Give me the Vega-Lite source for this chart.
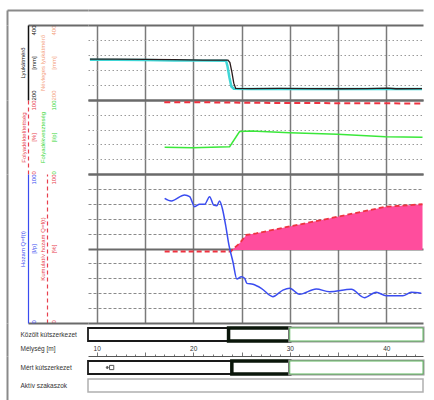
{
  "$schema": "https://vega.github.io/schema/vega-lite/v6.json",
  "padding": {"left": 6, "top": 9, "right": 0, "bottom": 0},
  "spacing": 0,
  "bounds": "flush",
  "config": {
    "font": "Liberation Sans",
    "view": {"stroke": null},
    "axis": {"minExtent": 0, "labelFontSize": 6, "titleFontSize": 6, "titleFontWeight": "normal", "labelOverlap": false, "labelFlush": false, "labelBound": false, "ticks": false, "tickSize": 0}
  },
  "vconcat": [
    {
      "width": 335, "height": 15,
      "data": {"values": [{"depth": 20, "v": 0.5}]},
      "mark": {"type": "point", "opacity": 0},
      "encoding": {
        "x": {"field": "depth", "type": "quantitative", "scale": {"domain": [9.1, 43.8], "nice": false, "zero": false},
              "axis": {"orient": "top", "domain": true, "domainColor": "#8a8a8a", "domainWidth": 2, "labels": false, "ticks": false, "grid": false, "title": null}},
        "y": {"field": "v", "type": "quantitative", "scale": {"domain": [0, 1], "nice": false},
              "axis": {"orient": "left", "offset": 81, "domain": true, "domainColor": "#8a8a8a", "domainWidth": 2, "labels": false, "ticks": true, "values": [1], "tickSize": -81, "tickColor": "#8a8a8a", "tickWidth": 2, "grid": false, "title": null}}
      }
    },
    {
      "width": 335, "height": 75,
      "resolve": {"scale": {"y": "independent"}},
      "layer": [
        {
          "data": {"values": [{"v": 0.5}]},
          "mark": {"type": "rule", "opacity": 0},
          "encoding": {
            "y": {"field": "v", "type": "quantitative", "scale": {"domain": [0, 1], "nice": false},
                  "axis": {"orient": "left", "offset": 81, "domain": true, "domainColor": "#8a8a8a", "domainWidth": 2, "labels": false, "ticks": false, "title": null,
                           "values": [0, 0.2, 0.4, 0.6, 0.8, 1], "grid": true,
                           "gridColor": {"condition": {"test": "datum.value < 0.01 || datum.value > 0.99", "value": "#6a6a6a"}, "value": "#9a9a9a"},
                           "gridWidth": {"condition": {"test": "datum.value < 0.01 || datum.value > 0.99", "value": 2}, "value": 1},
                           "gridDash": {"condition": {"test": "datum.value < 0.01 || datum.value > 0.99", "value": []}, "value": [1.5, 2.5]}}}
          }
        },
        {
          "data": {"values": [
            {"depth": 9.3, "mm": 307.5}, {"depth": 12, "mm": 307}, {"depth": 15, "mm": 306.5}, {"depth": 18, "mm": 305.5},
            {"depth": 21, "mm": 305}, {"depth": 23.4, "mm": 305}, {"depth": 23.55, "mm": 290}, {"depth": 23.75, "mm": 260},
            {"depth": 23.95, "mm": 236}, {"depth": 24.2, "mm": 230}, {"depth": 26, "mm": 229.5}, {"depth": 43.7, "mm": 229.5}
          ]},
          "mark": {"type": "line", "color": "#3fd6d6", "strokeWidth": 2.5},
          "encoding": {
            "x": {"field": "depth", "type": "quantitative", "scale": {"domain": [9.1, 43.8], "nice": false, "zero": false},
                  "axis": {"labels": false, "ticks": false, "domain": false, "grid": true, "values": [10, 15, 20, 25, 30, 35, 40], "gridColor": "#7a7a7a", "gridWidth": 1.5, "title": null}},
            "y": {"field": "mm", "type": "quantitative", "scale": {"domain": [200, 400], "nice": false, "zero": false},
                  "axis": {"orient": "left", "offset": 41, "domain": false, "grid": false, "values": [200, 300, 400], "labelOverlap": false,
                           "labelExpr": "datum.value == 300 ? '[mm]' : datum.label", "labelAngle": -90, "labelBaseline": "top", "labelPadding": -3,
                           "labelAlign": {"condition": [{"test": "datum.value == 400", "value": "right"}, {"test": "datum.value == 200", "value": "left"}], "value": "center"},
                           "labelColor": "#f4a07c", "title": "Névleges lyukátmérő", "titleColor": "#f4a07c", "titlePadding": 1.5}}
          }
        },
        {
          "data": {"values": [
            {"depth": 9.3, "mm": 309}, {"depth": 12, "mm": 309}, {"depth": 15, "mm": 308.5}, {"depth": 18, "mm": 307.5},
            {"depth": 21, "mm": 306.5}, {"depth": 23.6, "mm": 306.5}, {"depth": 23.8, "mm": 300}, {"depth": 24.0, "mm": 275},
            {"depth": 24.2, "mm": 245}, {"depth": 24.4, "mm": 231}, {"depth": 26, "mm": 230.5}, {"depth": 29, "mm": 231},
            {"depth": 32, "mm": 230.5}, {"depth": 35, "mm": 230}, {"depth": 38, "mm": 230.5}, {"depth": 40.2, "mm": 231.5},
            {"depth": 41, "mm": 230}, {"depth": 43.7, "mm": 230.5}
          ]},
          "mark": {"type": "line", "color": "#2a1c1c", "strokeWidth": 1.3},
          "encoding": {
            "x": {"field": "depth", "type": "quantitative", "scale": {"domain": [9.1, 43.8], "nice": false, "zero": false},
                  "axis": {"labels": false, "ticks": false, "domain": false, "grid": true, "values": [10, 15, 20, 25, 30, 35, 40], "gridColor": "#7a7a7a", "gridWidth": 1.5, "title": null}},
            "y": {"field": "mm", "type": "quantitative", "scale": {"domain": [200, 400], "nice": false, "zero": false},
                  "axis": {"orient": "left", "offset": 60, "domain": true, "domainColor": "#111111", "domainWidth": 1.5, "grid": false, "values": [200, 300, 400], "labelOverlap": false,
                           "ticks": true, "tickSize": -60, "tickWidth": 2, "tickColor": "#6a6a6a",
                           "tickOpacity": {"condition": {"test": "datum.value == 400", "value": 1}, "value": 0},
                           "labelExpr": "datum.value == 300 ? '[mm]' : datum.label", "labelAngle": -90, "labelBaseline": "top", "labelPadding": 58,
                           "labelAlign": {"condition": [{"test": "datum.value == 400", "value": "right"}, {"test": "datum.value == 200", "value": "left"}], "value": "center"},
                           "labelColor": "#111111", "title": "Lyukátmérő", "titleColor": "#111111", "titlePadding": 2}}
          }
        }
      ]
    },
    {
      "width": 335, "height": 74,
      "resolve": {"scale": {"y": "independent"}},
      "layer": [
        {
          "data": {"values": [{"v": 0.5}]},
          "mark": {"type": "rule", "opacity": 0},
          "encoding": {
            "y": {"field": "v", "type": "quantitative", "scale": {"domain": [0, 1], "nice": false},
                  "axis": {"orient": "left", "offset": 81, "domain": true, "domainColor": "#8a8a8a", "domainWidth": 2, "labels": false, "ticks": false, "title": null,
                           "values": [0, 0.2, 0.4, 0.6, 0.8, 1], "grid": true,
                           "gridColor": {"condition": {"test": "datum.value < 0.01 || datum.value > 0.99", "value": "#6a6a6a"}, "value": "#9a9a9a"},
                           "gridWidth": {"condition": {"test": "datum.value < 0.01 || datum.value > 0.99", "value": 2}, "value": 1},
                           "gridDash": {"condition": {"test": "datum.value < 0.01 || datum.value > 0.99", "value": []}, "value": [1.5, 2.5]}}}
          }
        },
        {
          "data": {"values": [
            {"depth": 17.0, "pct": 97}, {"depth": 22, "pct": 96.8}, {"depth": 26, "pct": 96.2}, {"depth": 30, "pct": 96},
            {"depth": 35, "pct": 95.7}, {"depth": 40, "pct": 95.5}, {"depth": 43.7, "pct": 95.3}
          ]},
          "mark": {"type": "line", "color": "#ee3340", "strokeWidth": 2, "strokeDash": [6, 4]},
          "encoding": {
            "x": {"field": "depth", "type": "quantitative", "scale": {"domain": [9.1, 43.8], "nice": false, "zero": false},
                  "axis": {"labels": false, "ticks": false, "domain": false, "grid": true, "values": [10, 15, 20, 25, 30, 35, 40], "gridColor": "#7a7a7a", "gridWidth": 1.5, "title": null}},
            "y": {"field": "pct", "type": "quantitative", "scale": {"domain": [0, 100], "nice": false},
                  "axis": {"orient": "left", "offset": 60, "domain": true, "domainColor": "#e8404e", "domainWidth": 1.2, "domainDash": [4, 3], "grid": false, "values": [0, 50, 100], "labelOverlap": false,
                           "labelExpr": "datum.value == 50 ? '[%]' : datum.label", "labelAngle": -90, "labelBaseline": "top", "labelPadding": -2,
                           "labelAlign": {"condition": [{"test": "datum.value == 100", "value": "right"}, {"test": "datum.value == 0", "value": "left"}], "value": "center"},
                           "labelColor": "#e8404e", "title": "Folyadéktelítettség", "titleColor": "#e8404e", "titlePadding": 2}}
          }
        },
        {
          "data": {"values": [
            {"depth": 17.04, "val": 36.1}, {"depth": 19.94, "val": 35.5}, {"depth": 23.77, "val": 36.9}, {"depth": 24.8, "val": 57.3},
            {"depth": 26, "val": 58}, {"depth": 29.98, "val": 55.8}, {"depth": 34.95, "val": 53.6}, {"depth": 39.92, "val": 50.4}, {"depth": 43.75, "val": 49.6}
          ]},
          "mark": {"type": "line", "color": "#3ae83a", "strokeWidth": 1.5},
          "encoding": {
            "x": {"field": "depth", "type": "quantitative", "scale": {"domain": [9.1, 43.8], "nice": false, "zero": false},
                  "axis": {"labels": false, "ticks": false, "domain": false, "grid": true, "values": [10, 15, 20, 25, 30, 35, 40], "gridColor": "#7a7a7a", "gridWidth": 1.5, "title": null}},
            "y": {"field": "val", "type": "quantitative", "scale": {"domain": [0, 100], "nice": false},
                  "axis": {"orient": "left", "offset": 41, "domain": false, "grid": false, "values": [0, 50, 100], "labelOverlap": false,
                           "labelExpr": "datum.value == 50 ? '[l/p]' : datum.label", "labelAngle": -90, "labelBaseline": "top", "labelPadding": -3,
                           "labelAlign": {"condition": [{"test": "datum.value == 100", "value": "right"}, {"test": "datum.value == 0", "value": "left"}], "value": "center"},
                           "labelColor": "#3ad83a", "title": "Folyadékveszteség", "titleColor": "#3ad83a", "titlePadding": 1.5}}
          }
        }
      ]
    },
    {
      "width": 335, "height": 149,
      "resolve": {"scale": {"y": "independent"}},
      "layer": [
        {
          "data": {"values": [{"v": 0.5}]},
          "mark": {"type": "rule", "opacity": 0},
          "encoding": {
            "y": {"field": "v", "type": "quantitative", "scale": {"domain": [0, 1], "nice": false},
                  "axis": {"orient": "left", "offset": 81, "domain": true, "domainColor": "#8a8a8a", "domainWidth": 2, "labels": false, "ticks": false, "title": null,
                           "values": [0, 0.1, 0.2, 0.3, 0.4, 0.5, 0.6, 0.7, 0.8, 0.9, 1], "grid": true,
                           "gridColor": {"condition": {"test": "datum.value < 0.01 || datum.value > 0.99 || abs(datum.value - 0.5) < 0.01", "value": "#6a6a6a"}, "value": "#8a8a8a"},
                           "gridWidth": {"condition": {"test": "datum.value < 0.01 || datum.value > 0.99 || abs(datum.value - 0.5) < 0.01", "value": 2}, "value": 1},
                           "gridDash": {"condition": {"test": "datum.value < 0.01 || datum.value > 0.99 || abs(datum.value - 0.5) < 0.01", "value": []}, "value": [3, 2]}}}
          }
        },
        {
          "data": {"values": [
            {"depth": 17.04, "pct": 48}, {"depth": 23.9, "pct": 48}, {"depth": 24.11, "pct": 49.5}, {"depth": 24.8, "pct": 53.5},
            {"depth": 25.5, "pct": 59.1}, {"depth": 26.53, "pct": 60.2}, {"depth": 29.98, "pct": 64.8}, {"depth": 34.95, "pct": 71.3},
            {"depth": 39.99, "pct": 78.1}, {"depth": 43.75, "pct": 79.7}
          ]},
          "transform": [{"filter": "datum.depth >= 24.1"}],
          "mark": {"type": "area", "color": "#ff4d9d", "opacity": 1},
          "encoding": {
            "x": {"field": "depth", "type": "quantitative", "scale": {"domain": [9.1, 43.8], "nice": false, "zero": false},
                  "axis": {"labels": false, "ticks": false, "domain": false, "grid": true, "values": [10, 15, 20, 25, 30, 35, 40], "gridColor": "#7a7a7a", "gridWidth": 1.5, "title": null}},
            "y": {"field": "pct", "type": "quantitative", "scale": {"domain": [0, 100], "nice": false}, "axis": null},
            "y2": {"datum": 49}
          }
        },
        {
          "data": {"values": [
            {"depth": 17.04, "pct": 48}, {"depth": 23.9, "pct": 48}, {"depth": 24.11, "pct": 49.5}, {"depth": 24.8, "pct": 53.5},
            {"depth": 25.5, "pct": 59.1}, {"depth": 26.53, "pct": 60.2}, {"depth": 29.98, "pct": 64.8}, {"depth": 34.95, "pct": 71.3},
            {"depth": 39.99, "pct": 78.1}, {"depth": 43.75, "pct": 79.7}
          ]},
          "mark": {"type": "line", "color": "#ee3340", "strokeWidth": 1.8, "strokeDash": [5, 3]},
          "encoding": {
            "x": {"field": "depth", "type": "quantitative", "scale": {"domain": [9.1, 43.8], "nice": false, "zero": false},
                  "axis": {"labels": false, "ticks": false, "domain": false, "grid": true, "values": [10, 15, 20, 25, 30, 35, 40], "gridColor": "#7a7a7a", "gridWidth": 1.5, "title": null}},
            "y": {"field": "pct", "type": "quantitative", "scale": {"domain": [0, 100], "nice": false},
                  "axis": {"orient": "left", "offset": 41, "domain": true, "domainColor": "#e8404e", "domainWidth": 1.2, "domainDash": [4, 3], "grid": false, "values": [0, 50, 100], "labelOverlap": false,
                           "labelExpr": "datum.value == 50 ? '[%]' : datum.label", "labelAngle": -90, "labelBaseline": "top", "labelPadding": -3,
                           "labelAlign": {"condition": [{"test": "datum.value == 100", "value": "right"}, {"test": "datum.value == 0", "value": "left"}], "value": "center"},
                           "labelColor": "#e8404e", "title": "Kumulatív hozam Q=f(t)", "titleColor": "#e8404e", "titlePadding": 1.5}}
          }
        },
        {
          "data": {"values": [
            {"depth": 17.04, "q": 83.7}, {"depth": 17.73, "q": 81.9}, {"depth": 19.11, "q": 85.9}, {"depth": 19.63, "q": 84.8},
            {"depth": 20.14, "q": 78.1}, {"depth": 20.66, "q": 79.7}, {"depth": 21.18, "q": 79.7}, {"depth": 21.7, "q": 84.8},
            {"depth": 22.11, "q": 79.2}, {"depth": 22.45, "q": 78.7}, {"depth": 22.73, "q": 81.9}, {"depth": 23.01, "q": 77.0},
            {"depth": 23.35, "q": 65.8}, {"depth": 23.7, "q": 52.3}, {"depth": 24.11, "q": 41.1}, {"depth": 24.52, "q": 29.5},
            {"depth": 24.98, "q": 31.1}, {"depth": 25.32, "q": 30.0}, {"depth": 25.56, "q": 26.6}, {"depth": 26.18, "q": 26.0},
            {"depth": 27.05, "q": 23.3}, {"depth": 28.25, "q": 17.7}, {"depth": 29.29, "q": 22.1}, {"depth": 29.98, "q": 23.3},
            {"depth": 31.01, "q": 19.3}, {"depth": 32.74, "q": 22.8}, {"depth": 34.12, "q": 21.0}, {"depth": 36.37, "q": 22.6},
            {"depth": 37.74, "q": 17.0}, {"depth": 38.95, "q": 20.6}, {"depth": 39.99, "q": 18.3}, {"depth": 41.71, "q": 18.3},
            {"depth": 42.58, "q": 20.6}, {"depth": 43.61, "q": 19.9}
          ]},
          "mark": {"type": "line", "color": "#3a4cf0", "strokeWidth": 1.5, "interpolate": "monotone"},
          "encoding": {
            "x": {"field": "depth", "type": "quantitative", "scale": {"domain": [9.1, 43.8], "nice": false, "zero": false},
                  "axis": {"labels": false, "ticks": false, "domain": false, "grid": true, "values": [10, 15, 20, 25, 30, 35, 40], "gridColor": "#7a7a7a", "gridWidth": 1.5, "title": null}},
            "y": {"field": "q", "type": "quantitative", "scale": {"domain": [0, 100], "nice": false},
                  "axis": {"orient": "left", "offset": 60, "domain": true, "domainColor": "#3a4cf0", "domainWidth": 1.2, "grid": false, "values": [0, 50, 100], "labelOverlap": false,
                           "ticks": true, "tickSize": -60, "tickWidth": 2, "tickColor": "#6a6a6a",
                           "tickOpacity": {"condition": {"test": "datum.value == 0", "value": 1}, "value": 0},
                           "labelExpr": "datum.value == 50 ? '[l/p]' : datum.label", "labelAngle": -90, "labelBaseline": "top", "labelPadding": 58,
                           "labelAlign": {"condition": [{"test": "datum.value == 100", "value": "right"}, {"test": "datum.value == 0", "value": "left"}], "value": "center"},
                           "labelColor": "#3a4cf0", "title": "Hozam Q=f(t)", "titleColor": "#3a4cf0", "titlePadding": 2}}
          }
        }
      ]
    },
    {
      "width": 335, "height": 33,
      "data": {"values": [
        {"track": "Közölt kútszerkezet", "from": 9.1, "to": 23.66, "part": "cső"},
        {"track": "Közölt kútszerkezet", "from": 23.66, "to": 30, "part": "szűrő"},
        {"track": "Közölt kútszerkezet", "from": 30, "to": 43.8, "part": "nyitott"}
      ]},
      "encoding": {
        "x": {"field": "from", "type": "quantitative", "scale": {"domain": [9.1, 43.8], "nice": false, "zero": false}, "axis": null},
        "x2": {"field": "to"},
        "y": {"field": "track", "type": "nominal", "scale": {"domain": ["Közölt kútszerkezet"], "paddingInner": 0, "paddingOuter": 0.769, "align": 0.25},
              "axis": {"orient": "left", "offset": 81, "domain": true, "domainColor": "#8a8a8a", "domainWidth": 2, "ticks": false, "grid": false, "title": null,
                       "labelAlign": "left", "labelBaseline": "middle", "labelPadding": -13, "labelFontSize": 6.5, "labelColor": "#333333", "labelAngle": 0}}
      },
      "layer": [
        {"transform": [{"filter": "datum.part == 'cső'"}], "mark": {"type": "bar", "fill": "white", "stroke": "#1a1a1a", "strokeWidth": 1.8}},
        {"transform": [{"filter": "datum.part == 'szűrő'"}], "mark": {"type": "bar", "fill": "white", "stroke": "#0a160a", "strokeWidth": 3.5}},
        {"transform": [{"filter": "datum.part == 'nyitott'"}], "mark": {"type": "bar", "fill": "white", "stroke": "#9a9a9a", "strokeWidth": 3}},
        {"transform": [{"filter": "datum.part == 'nyitott'"}], "mark": {"type": "bar", "fill": "white", "stroke": "#5fb85f", "strokeWidth": 1}}
      ]
    },
    {
      "width": 335, "height": 44,
      "data": {"values": [
        {"track": "Mért kútszerkezet", "from": 9.1, "to": 24.0, "part": "cső"},
        {"track": "Mért kútszerkezet", "from": 24.0, "to": 30, "part": "szűrő"},
        {"track": "Mért kútszerkezet", "from": 30, "to": 43.8, "part": "nyitott"},
        {"track": "Aktív szakaszok", "from": 9.1, "to": 43.8, "part": "aktív"}
      ]},
      "encoding": {
        "x": {"field": "from", "type": "quantitative", "scale": {"domain": [9.1, 43.8], "nice": false, "zero": false},
              "axis": {"orient": "top", "values": [10, 11, 12, 13, 14, 15, 16, 17, 18, 19, 20, 21, 22, 23, 24, 25, 26, 27, 28, 29, 30, 31, 32, 33, 34, 35, 36, 37, 38, 39, 40, 41, 42, 43],
                       "labelExpr": "datum.value % 10 == 0 ? datum.label : ''", "labelOverlap": false, "ticks": true,
                       "tickSize": {"condition": {"test": "datum.value % 5 == 0", "value": 4}, "value": 2},
                       "tickColor": "#555555", "tickWidth": 0.8, "domain": true, "domainColor": "#555555", "domainWidth": 1,
                       "labelPadding": 1, "labelFontSize": 6.5, "labelColor": "#333333", "grid": false,
                       "title": "Mélység [m]", "titleX": -68, "titleY": -8, "titleAlign": "left", "titleAngle": 0, "titleBaseline": "middle",
                       "titleFontSize": 6.5, "titleColor": "#333333"}},
        "x2": {"field": "to"},
        "y": {"field": "track", "type": "nominal", "scale": {"domain": ["Mért kútszerkezet", "Aktív szakaszok"], "paddingInner": 0.278, "paddingOuter": 0.361, "align": 0.385},
              "axis": {"orient": "left", "offset": 81, "domain": true, "domainColor": "#8a8a8a", "domainWidth": 2, "ticks": false, "grid": false, "title": null,
                       "labelAlign": "left", "labelBaseline": "middle", "labelPadding": -13, "labelFontSize": 6.5, "labelColor": "#333333", "labelAngle": 0}}
      },
      "layer": [
        {"transform": [{"filter": "datum.part == 'cső'"}], "mark": {"type": "bar", "fill": "white", "stroke": "#1a1a1a", "strokeWidth": 1.8}},
        {"transform": [{"filter": "datum.part == 'szűrő'"}], "mark": {"type": "bar", "fill": "white", "stroke": "#0a160a", "strokeWidth": 3.5}},
        {"transform": [{"filter": "datum.part == 'nyitott'"}], "mark": {"type": "bar", "fill": "white", "stroke": "#9a9a9a", "strokeWidth": 3}},
        {"transform": [{"filter": "datum.part == 'nyitott'"}], "mark": {"type": "bar", "fill": "white", "stroke": "#5fb85f", "strokeWidth": 1}},
        {"transform": [{"filter": "datum.part == 'aktív'"}], "mark": {"type": "bar", "fill": "white", "stroke": "#b0b0b0", "strokeWidth": 1.5}},
        {
          "data": {"values": [
            {"track": "Mért kútszerkezet", "at": 11.1, "kind": "pont"},
            {"track": "Mért kútszerkezet", "at": 11.55, "kind": "jel"}
          ]},
          "mark": {"type": "point", "filled": false, "strokeWidth": 1, "stroke": "#111111"},
          "encoding": {
            "x": {"field": "at", "type": "quantitative"},
            "x2": null,
            "y": {"field": "track", "type": "nominal"},
            "shape": {"field": "kind", "type": "nominal", "scale": {"domain": ["pont", "jel"], "range": ["circle", "square"]}, "legend": null},
            "size": {"field": "kind", "type": "nominal", "scale": {"domain": ["pont", "jel"], "range": [4, 18]}, "legend": null},
            "fill": {"field": "kind", "type": "nominal", "scale": {"domain": ["pont", "jel"], "range": ["#111111", "white"]}, "legend": null}
          }
        }
      ]
    }
  ]
}
